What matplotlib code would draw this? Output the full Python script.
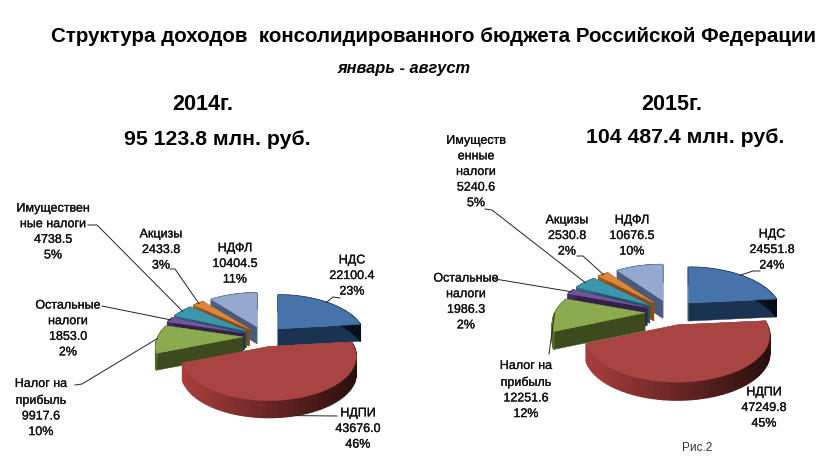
import numpy as np
import matplotlib
matplotlib.use('Agg')
import matplotlib.pyplot as plt
import matplotlib.patheffects as pe
from matplotlib.colors import to_rgb

values_2014 = [22100.4, 43676.0, 9917.6, 1853.0, 4738.5, 2433.8, 10404.5]
values_2015 = [24551.8, 47249.8, 12251.6, 1986.3, 5240.6, 2530.8, 10676.5]
percent_2014 = [23, 46, 10, 2, 5, 3, 11]
percent_2015 = [24, 45, 12, 2, 5, 2, 10]
names_2014 = ['НДС', 'НДПИ', 'Налог на\nприбыль', 'Остальные\nналоги',
              'Имуществен\nные налоги', 'Акцизы', 'НДФЛ']
names_2015 = ['НДС', 'НДПИ', 'Налог на\nприбыль', 'Остальные\nналоги',
              'Имуществ\nенные\nналоги', 'Акцизы', 'НДФЛ']

top_colors = ['#4674aa', '#a84543', '#8bab4e', '#73559a', '#3b96ae', '#dd853a', '#93a9d0']
wall_colors = ['#1b3352', '#8a3230', '#3d4a1e', '#33214a', '#1f5566', '#8a4c14', '#4a5a7a']

# Excel-style exploded 3D pie, all in pixel coordinates of the picture
PERSP = 0.23
TILT = 0.49


def project(radius, u, v):
    s = 1 / (1 - PERSP * v)
    return radius * u * s, radius * TILT * v * s


def draw_pie(ax, values, cx, cy, radius, explode, depth):
    values = np.array(values)
    edges = np.concatenate([[0], np.cumsum(values)]) / values.sum() * 2 * np.pi
    mids = (edges[:-1] + edges[1:]) / 2
    rims = []
    for i in np.argsort(-np.cos(mids)):
        a0, a1, mid = edges[i], edges[i + 1], mids[i]
        ax0 = cx + explode * np.sin(mid)
        ay0 = cy - explode * TILT * np.cos(mid)
        ang = np.linspace(a0, a1, 60)
        px, py = project(radius, np.sin(ang), -np.cos(ang))
        xs, ys = ax0 + px, ay0 + py

        # side walls first
        for xe, ye in [(xs[0], ys[0]), (xs[-1], ys[-1])]:
            ax.fill([ax0, xe, xe, ax0], [ay0, ye, ye + depth, ay0 + depth],
                    color=wall_colors[i], lw=0.3, zorder=2)
        base = np.array(to_rgb(wall_colors[i]))
        for j in range(len(ang) - 1):
            # outer wall gets darker towards the right
            f = 1.25 - 0.9 * (xs[j] - (cx - radius)) / (2 * radius)
            col = np.clip(base * f, 0, 1)
            ax.fill([xs[j], xs[j + 1], xs[j + 1], xs[j]],
                    [ys[j], ys[j + 1], ys[j + 1] + depth, ys[j] + depth],
                    color=col, lw=1.0, zorder=2)
        ax.fill(np.r_[ax0, xs], np.r_[ay0, ys], color=top_colors[i], lw=0.3, zorder=2)
    for mid in mids:
        mx, my = project(radius, np.sin(mid), -np.cos(mid))
        rims.append((cx + explode * np.sin(mid) + mx, cy - explode * TILT * np.cos(mid) + my))
    return rims


def draw_labels(ax, names, values, percents, positions):
    for name, val, pct, (x, y) in zip(names, values, percents, positions):
        ax.text(x, y, f'{name}\n{val:.1f}\n{pct}%', ha='center', va='center', fontsize=9,
                linespacing=1.4, color='#111111', fontfamily='Liberation Sans', zorder=5,
                path_effects=[pe.withStroke(linewidth=0.2, foreground='#111111')])


fig = plt.figure(figsize=(8.22, 4.64), dpi=100)
ax = fig.add_axes([0, 0, 1, 1])
ax.set_xlim(0, 822)
ax.set_ylim(464, 0)
ax.axis('off')

rims_14 = draw_pie(ax, values_2014, 264, 337.5, 85, 21, 17)
rims_15 = draw_pie(ax, values_2015, 671, 313.5, 90, 26, 18)

draw_labels(ax, names_2014, values_2014, percent_2014,
            [(352, 277), (358, 430), (41, 409), (68, 330), (53, 233), (161, 251), (235, 265)])
draw_labels(ax, names_2015, values_2015, percent_2015,
            [(772, 251), (764, 409), (526, 391), (466, 303), (476, 173), (567, 237), (632, 237)])

# leader lines: start at the label, end on the slice
leaders_14 = {0: [(340, 299), (333, 298)], 2: [(75, 386), (82, 385)], 3: [(102, 307)],
              4: [(88, 226), (97, 226)], 5: [(170, 270), (175, 270)]}
leaders_15 = {0: [(760, 272), (753, 272)], 2: [(549, 355)], 3: [(495, 280)],
              4: [(485, 210), (492, 211)], 5: [(577, 257), (583, 257)]}
for leaders, rims in [(leaders_14, rims_14), (leaders_15, rims_15)]:
    for i, pts in leaders.items():
        path = pts + [rims[i]]
        ax.plot([p[0] for p in path], [p[1] for p in path], color='#222222', lw=0.7, zorder=4)
ax.plot([337, rims_14[1][0]], [417, rims_14[1][1] + 17], color='#222222', lw=0.7, zorder=4)

head = dict(ha='center', va='center', fontfamily='Liberation Sans', fontweight='bold', color='black')
ax.text(433, 36, 'Структура доходов  консолидированного бюджета Российской Федерации',
        fontsize=14.8, **head)
ax.text(404, 68, 'январь - август', fontsize=11.8, style='italic', **head)
ax.text(203, 105, '2014г.', fontsize=15.5, **head)
ax.text(217, 140, '95 123.8 млн. руб.', fontsize=15.3, **head)
ax.text(672, 104, '2015г.', fontsize=15.5, **head)
ax.text(685, 138, '104 487.4 млн. руб.', fontsize=15.3, **head)
ax.text(697, 448, 'Рис.2', fontsize=8.5, ha='center', va='center', color='#333333',
        fontfamily='Liberation Sans')

fig.savefig('out.png', dpi=100)
